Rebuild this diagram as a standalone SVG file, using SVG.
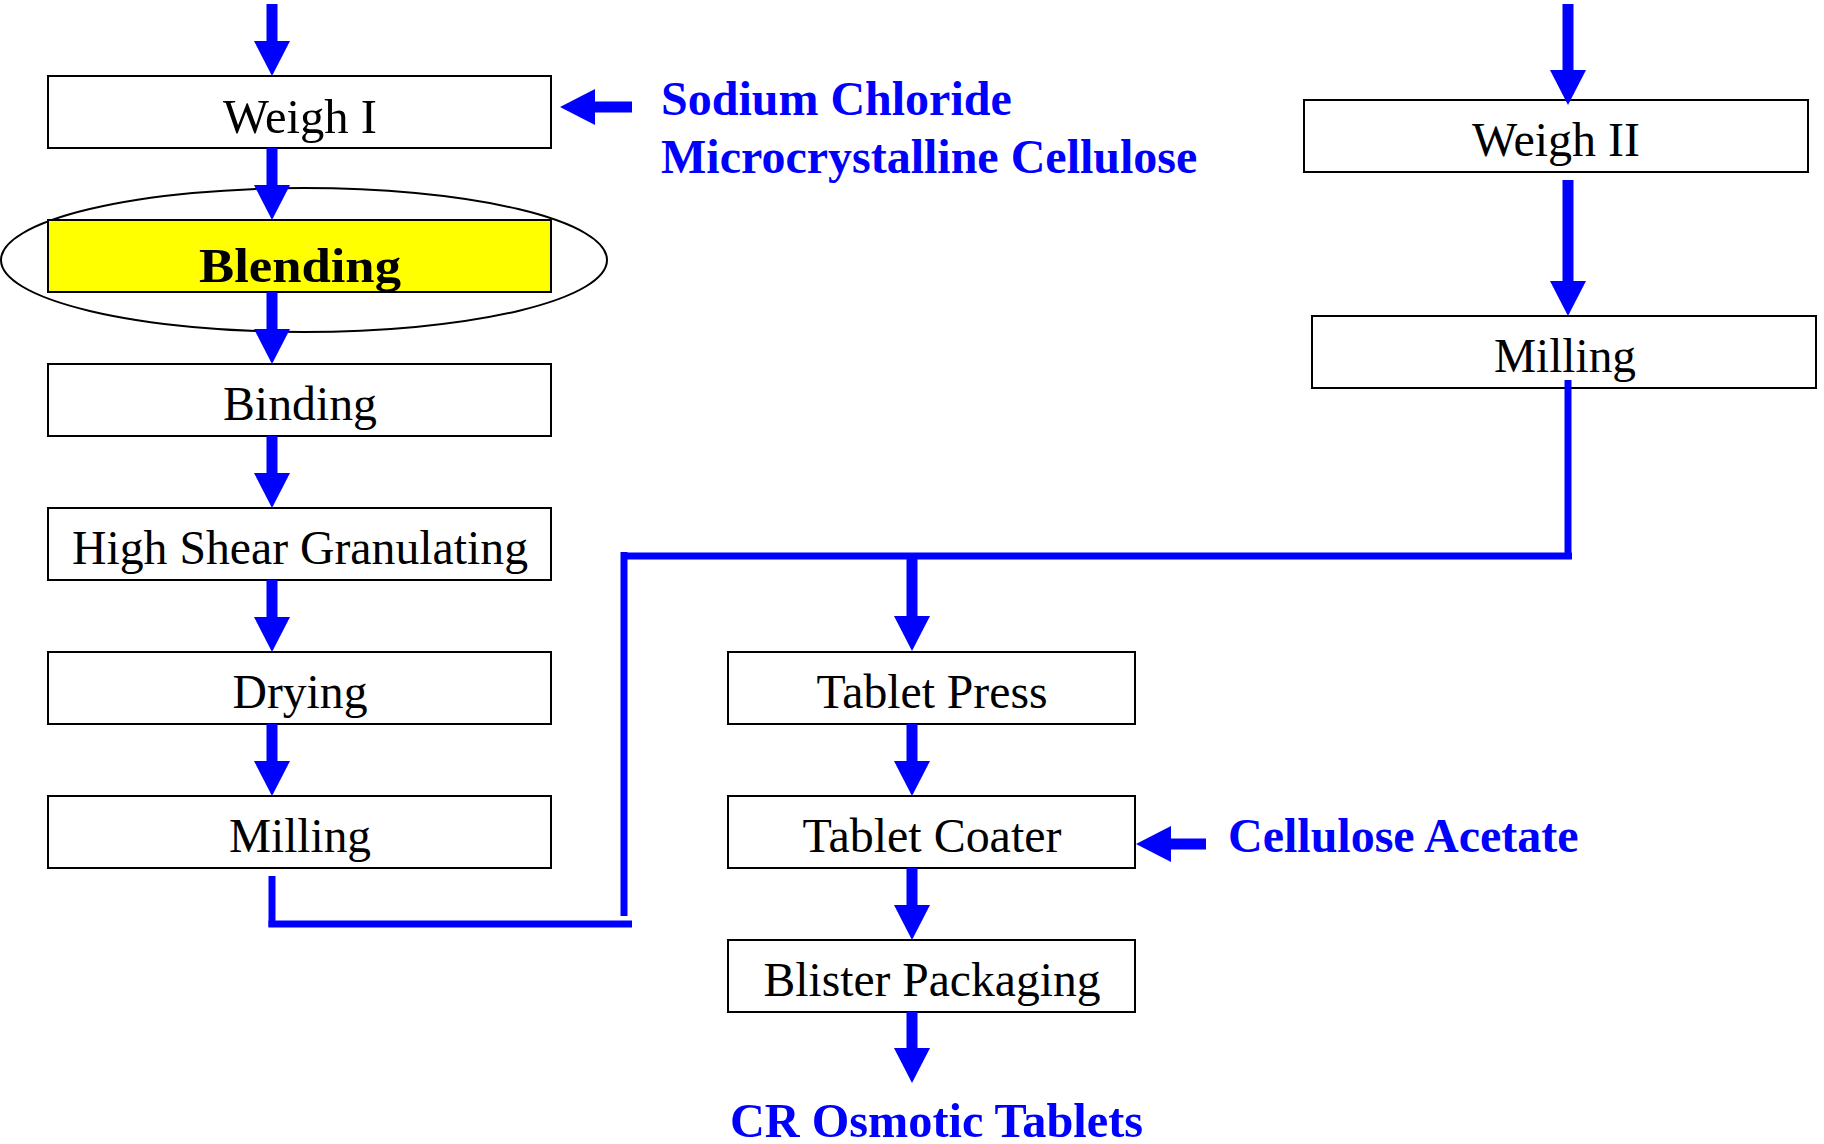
<svg xmlns="http://www.w3.org/2000/svg" width="1824" height="1144" viewBox="0 0 1824 1144">
  <style>
    .box { fill: #ffffff; stroke: #000000; stroke-width: 2; }
    .hl { fill: #ffff00; stroke: #000000; stroke-width: 2; }
    .lbl { font-family: "Liberation Serif", "Times New Roman", serif; font-size: 48px; fill: #000000; text-anchor: middle; }
    .bold { font-weight: bold; }
    .feed { font-family: "Liberation Serif", "Times New Roman", serif; font-size: 48px; font-weight: bold; fill: #0000ff; }
    .arrow { stroke: #0000ff; stroke-width: 11; fill: none; marker-end: url(#head); }
    .pipe { stroke: #0000ff; stroke-width: 7; fill: none; }
  </style>
  <defs>
    <marker id="head" markerUnits="userSpaceOnUse" viewBox="0 -18 35 36" markerWidth="35" markerHeight="36" refX="0" refY="0" orient="auto">
      <path d="M0,-18 L35,0 L0,18 Z" fill="#0000ff"/>
    </marker>
  </defs>

  <rect width="1824" height="1144" fill="#ffffff"/>

  <!-- granulation line -->
  <g id="weigh1">
    <rect class="box" x="48" y="76" width="503" height="72"/>
    <text class="lbl" x="300" y="133" textLength="154" lengthAdjust="spacingAndGlyphs">Weigh I</text>
  </g>
  <g id="blending">
    <ellipse cx="304" cy="260" rx="303" ry="72" fill="none" stroke="#000000" stroke-width="2"/>
    <rect class="hl" x="48" y="220" width="503" height="72"/>
    <text class="lbl bold" x="300" y="282" font-size="53" textLength="202" lengthAdjust="spacingAndGlyphs">Blending</text>
  </g>
  <g id="binding">
    <rect class="box" x="48" y="364" width="503" height="72"/>
    <text class="lbl" x="300" y="420" textLength="154" lengthAdjust="spacingAndGlyphs">Binding</text>
  </g>
  <g id="granulating">
    <rect class="box" x="48" y="508" width="503" height="72"/>
    <text class="lbl" x="300" y="564" textLength="456" lengthAdjust="spacingAndGlyphs">High Shear Granulating</text>
  </g>
  <g id="drying">
    <rect class="box" x="48" y="652" width="503" height="72"/>
    <text class="lbl" x="300" y="708" textLength="135" lengthAdjust="spacingAndGlyphs">Drying</text>
  </g>
  <g id="milling1">
    <rect class="box" x="48" y="796" width="503" height="72"/>
    <text class="lbl" x="300" y="852" textLength="142" lengthAdjust="spacingAndGlyphs">Milling</text>
  </g>

  <!-- second weighing line -->
  <g id="weigh2">
    <rect class="box" x="1304" y="100" width="504" height="72"/>
    <text class="lbl" x="1556" y="156" textLength="168" lengthAdjust="spacingAndGlyphs">Weigh II</text>
  </g>
  <g id="milling2">
    <rect class="box" x="1312" y="316" width="504" height="72"/>
    <text class="lbl" x="1565" y="372" textLength="142" lengthAdjust="spacingAndGlyphs">Milling</text>
  </g>

  <!-- tableting line -->
  <g id="press">
    <rect class="box" x="728" y="652" width="407" height="72"/>
    <text class="lbl" x="932" y="708" textLength="231" lengthAdjust="spacingAndGlyphs">Tablet Press</text>
  </g>
  <g id="coater">
    <rect class="box" x="728" y="796" width="407" height="72"/>
    <text class="lbl" x="932" y="852" textLength="259" lengthAdjust="spacingAndGlyphs">Tablet Coater</text>
  </g>
  <g id="blister">
    <rect class="box" x="728" y="940" width="407" height="72"/>
    <text class="lbl" x="932" y="996" textLength="337" lengthAdjust="spacingAndGlyphs">Blister Packaging</text>
  </g>

  <!-- materials and product -->
  <g id="excipients">
    <text class="feed" x="661" y="115">Sodium Chloride</text>
    <text class="feed" x="661" y="173">Microcrystalline Cellulose</text>
  </g>
  <g id="coating">
    <text class="feed" x="1228" y="852">Cellulose Acetate</text>
  </g>
  <g id="product">
    <text class="feed" x="730" y="1137" font-size="48" textLength="413" lengthAdjust="spacingAndGlyphs">CR Osmotic Tablets</text>
  </g>

  <g id="connectors">
    <!-- left column flow -->
    <line class="arrow" x1="272" y1="4" x2="272" y2="41"/>
    <line class="arrow" x1="272" y1="148" x2="272" y2="185"/>
    <line class="arrow" x1="272" y1="292" x2="272" y2="329"/>
    <line class="arrow" x1="272" y1="436" x2="272" y2="473"/>
    <line class="arrow" x1="272" y1="580" x2="272" y2="617"/>
    <line class="arrow" x1="272" y1="724" x2="272" y2="761"/>
    <!-- right column flow -->
    <line class="arrow" x1="1568" y1="4" x2="1568" y2="70"/>
    <line class="arrow" x1="1568" y1="180" x2="1568" y2="281"/>
    <!-- feeds -->
    <line class="arrow" x1="632" y1="107" x2="595" y2="107"/>
    <line class="arrow" x1="1206" y1="844" x2="1171" y2="844"/>
    <!-- merge pipework -->
    <line class="pipe" x1="1568" y1="380" x2="1568" y2="556"/>
    <line class="pipe" x1="624" y1="556" x2="1572" y2="556" stroke-width="8"/>
    <line class="pipe" x1="624" y1="552" x2="624" y2="916"/>
    <line class="pipe" x1="272" y1="876" x2="272" y2="927"/>
    <line class="pipe" x1="268.5" y1="924" x2="632" y2="924"/>
    <!-- tableting flow -->
    <line class="arrow" x1="912" y1="556" x2="912" y2="616"/>
    <line class="arrow" x1="912" y1="724" x2="912" y2="761"/>
    <line class="arrow" x1="912" y1="868" x2="912" y2="905"/>
    <line class="arrow" x1="912" y1="1012" x2="912" y2="1048"/>
  </g>
</svg>
